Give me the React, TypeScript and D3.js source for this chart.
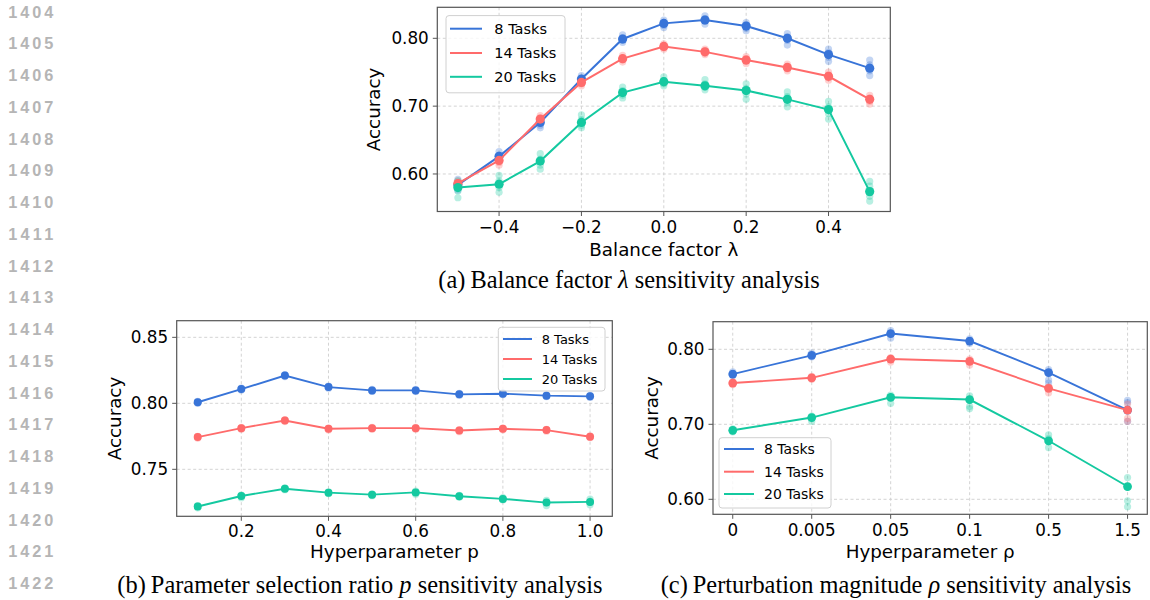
import React from "react";
import * as d3 from "d3";

// ---------- DATA ----------
const seriesNames = ["8 Tasks", "14 Tasks", "20 Tasks"];
const seriesColors = ["#3874d8", "#ff6b6b", "#14c9a0"];

// (a) balance factor lambda
const lambdaX = [-0.5, -0.4, -0.3, -0.2, -0.1, 0.0, 0.1, 0.2, 0.3, 0.4, 0.5];
const lambdaTicks = [-0.4, -0.2, 0.0, 0.2, 0.4];
const lambdaYTicks = [0.6, 0.7, 0.8];
const lambdaMean8 = [0.584, 0.626, 0.676, 0.74, 0.799, 0.822, 0.827, 0.818, 0.8, 0.776, 0.756];
const lambdaMean14 = [0.586, 0.62, 0.681, 0.735, 0.77, 0.788, 0.78, 0.768, 0.757, 0.744, 0.71];
const lambdaMean20 = [0.58, 0.585, 0.619, 0.676, 0.72, 0.736, 0.73, 0.723, 0.71, 0.695, 0.574];
const lambdaRuns8 = [
  [0.592, 0.587, 0.58, 0.576], [0.633, 0.628, 0.623, 0.619], [0.681, 0.677, 0.672, 0.668],
  [0.745, 0.741, 0.737, 0.734], [0.805, 0.801, 0.797, 0.794], [0.827, 0.823, 0.819, 0.816],
  [0.833, 0.829, 0.825, 0.821], [0.823, 0.82, 0.815, 0.811], [0.807, 0.802, 0.797, 0.79],
  [0.784, 0.779, 0.772, 0.766], [0.768, 0.761, 0.752, 0.745],
];
const lambdaRuns14 = [
  [0.59, 0.587, 0.583, 0.58], [0.625, 0.621, 0.617, 0.613], [0.686, 0.682, 0.679, 0.676],
  [0.74, 0.737, 0.733, 0.73], [0.775, 0.771, 0.768, 0.765], [0.792, 0.789, 0.786, 0.784],
  [0.784, 0.781, 0.778, 0.776], [0.773, 0.77, 0.766, 0.763], [0.762, 0.758, 0.755, 0.752],
  [0.75, 0.746, 0.742, 0.738], [0.716, 0.712, 0.707, 0.703],
];
const lambdaRuns20 = [
  [0.59, 0.582, 0.575, 0.565], [0.598, 0.59, 0.58, 0.573], [0.63, 0.622, 0.613, 0.607],
  [0.687, 0.68, 0.672, 0.668], [0.728, 0.723, 0.716, 0.712], [0.743, 0.738, 0.733, 0.73],
  [0.739, 0.733, 0.728, 0.724], [0.733, 0.726, 0.718, 0.71], [0.721, 0.714, 0.705, 0.699],
  [0.707, 0.699, 0.689, 0.681], [0.589, 0.582, 0.567, 0.56],
];

// (b) parameter selection ratio p
const pX = [0.1, 0.2, 0.3, 0.4, 0.5, 0.6, 0.7, 0.8, 0.9, 1.0];
const pTicks = [0.2, 0.4, 0.6, 0.8, 1.0];
const pYTicks = [0.75, 0.8, 0.85];
const pMean8 = [0.8008, 0.8108, 0.821, 0.8123, 0.8098, 0.8098, 0.8068, 0.8073, 0.8058, 0.8053];
const pMean14 = [0.7744, 0.7812, 0.787, 0.7807, 0.7812, 0.7812, 0.7794, 0.7807, 0.7797, 0.7747];
const pMean20 = [0.7218, 0.7298, 0.7353, 0.7323, 0.7308, 0.7325, 0.7296, 0.7276, 0.7248, 0.7253];
const pRuns8 = [
  [0.8015, 0.8008, 0.8], [0.8115, 0.8108, 0.81], [0.8218, 0.821, 0.8203], [0.813, 0.8123, 0.8115],
  [0.8105, 0.8098, 0.809], [0.8105, 0.8098, 0.809], [0.8075, 0.8068, 0.806], [0.808, 0.8073, 0.8065],
  [0.8065, 0.8058, 0.805], [0.806, 0.8053, 0.8045],
];
const pRuns14 = [
  [0.775, 0.7744, 0.7735], [0.7818, 0.7812, 0.7803], [0.7876, 0.787, 0.7862], [0.7813, 0.7807, 0.7798],
  [0.7818, 0.7812, 0.7804], [0.7818, 0.7812, 0.7804], [0.78, 0.7794, 0.7785], [0.7813, 0.7807, 0.7799],
  [0.7803, 0.7797, 0.7789], [0.7753, 0.7747, 0.7739],
];
const pRuns20 = [
  [0.7225, 0.7218, 0.7208], [0.7305, 0.7298, 0.7285], [0.736, 0.7353, 0.7345], [0.733, 0.7323, 0.7315],
  [0.7315, 0.7308, 0.73], [0.7335, 0.7325, 0.7312], [0.7303, 0.7296, 0.7288], [0.7285, 0.7276, 0.7268],
  [0.7265, 0.7248, 0.7225], [0.7275, 0.7253, 0.7232],
];

// (c) perturbation magnitude rho (categorical)
const rhoLabels = ["0", "0.005", "0.05", "0.1", "0.5", "1.5"];
const rhoYTicks = [0.6, 0.7, 0.8];
const rhoMean8 = [0.767, 0.792, 0.821, 0.811, 0.769, 0.719];
const rhoMean14 = [0.755, 0.762, 0.787, 0.784, 0.748, 0.719];
const rhoMean20 = [0.692, 0.709, 0.736, 0.733, 0.678, 0.617];
const rhoRuns8 = [
  [0.77, 0.767, 0.765], [0.795, 0.792, 0.79], [0.825, 0.821, 0.815],
  [0.814, 0.811, 0.808], [0.773, 0.769, 0.759, 0.755], [0.732, 0.729, 0.719, 0.704],
];
const rhoRuns14 = [
  [0.757, 0.755, 0.753], [0.764, 0.762, 0.76], [0.789, 0.787, 0.783],
  [0.787, 0.784, 0.779], [0.75, 0.748, 0.742], [0.727, 0.719, 0.708, 0.704],
];
const rhoRuns20 = [
  [0.694, 0.692, 0.69], [0.711, 0.709, 0.704], [0.739, 0.736, 0.728],
  [0.738, 0.733, 0.724, 0.721], [0.686, 0.681, 0.678, 0.669], [0.629, 0.617, 0.598, 0.59],
];

const lineNumbers = d3.range(1404, 1423);

// ---------- COMPONENTS ----------
const SANS = "DejaVu Sans, sans-serif";
const SERIF = "Liberation Serif, Times New Roman, serif";

type PanelProps = {
  frame: { x0: number; x1: number; y0: number; y1: number };
  x: (v: number) => number;
  y: (v: number) => number;
  xs: number[];
  xTicks: { v: number; label: string }[];
  yTicks: { v: number; label: string }[];
  means: number[][];
  runs: number[][][];
  xLabel: React.ReactNode;
  xLabelY: number;
  yLabelX: number;
  tickBaseline: number;
  legend: { x0: number; y0: number; w: number; h: number; lx0: number; lx1: number; tx: number; ys: number[]; font: number };
  rMean: number;
  lw: number;
};

function Panel(p: PanelProps) {
  const { frame, x, y } = p;
  const line = d3.line<number>().x((_, i) => x(p.xs[i])).y((d) => y(d));
  const fs = 16.8;
  return (
    <g>
      {/* grid */}
      {p.xTicks.map((t, i) => (
        <line key={"gx" + i} x1={x(t.v)} x2={x(t.v)} y1={frame.y0} y2={frame.y1} stroke="#cfcfcf" strokeWidth={0.9} strokeDasharray="3,2.5" />
      ))}
      {p.yTicks.map((t, i) => (
        <line key={"gy" + i} x1={frame.x0} x2={frame.x1} y1={y(t.v)} y2={y(t.v)} stroke="#cfcfcf" strokeWidth={0.9} strokeDasharray="3,2.5" />
      ))}
      {/* runs */}
      {p.runs.map((sr, si) =>
        sr.map((vals, xi) =>
          vals.map((v, k) => (
            <circle key={`r${si}-${xi}-${k}`} cx={x(p.xs[xi])} cy={y(v)} r={3.6} fill={seriesColors[si]} fillOpacity={0.3} />
          ))
        )
      )}
      {/* mean lines */}
      {p.means.map((m, si) => (
        <g key={"m" + si}>
          <path d={line(m) || ""} fill="none" stroke={seriesColors[si]} strokeWidth={p.lw} />
          {m.map((v, xi) => (
            <circle key={xi} cx={x(p.xs[xi])} cy={y(v)} r={p.rMean} fill={seriesColors[si]} />
          ))}
        </g>
      ))}
      {/* frame */}
      <rect x={frame.x0} y={frame.y0} width={frame.x1 - frame.x0} height={frame.y1 - frame.y0} fill="none" stroke="#555" strokeWidth={1.2} />
      {/* ticks */}
      {p.xTicks.map((t, i) => (
        <g key={"tx" + i}>
          <line x1={x(t.v)} x2={x(t.v)} y1={frame.y1} y2={frame.y1 + 4.5} stroke="#555" strokeWidth={1} />
          <text x={x(t.v)} y={p.tickBaseline} textAnchor="middle" fontFamily={SANS} fontSize={fs} fill="#000">{t.label}</text>
        </g>
      ))}
      {p.yTicks.map((t, i) => (
        <g key={"ty" + i}>
          <line x1={frame.x0 - 4.5} x2={frame.x0} y1={y(t.v)} y2={y(t.v)} stroke="#555" strokeWidth={1} />
          <text x={frame.x0 - 8.5} y={y(t.v)} dy="0.36em" textAnchor="end" fontFamily={SANS} fontSize={fs} fill="#000">{t.label}</text>
        </g>
      ))}
      {/* axis labels */}
      <text x={(frame.x0 + frame.x1) / 2} y={p.xLabelY} textAnchor="middle" fontFamily={SANS} fontSize={18.3} fill="#000">{p.xLabel}</text>
      <text transform={`translate(${p.yLabelX},${(frame.y0 + frame.y1) / 2}) rotate(-90)`} textAnchor="middle" fontFamily={SANS} fontSize={18.3} fill="#000">Accuracy</text>
      {/* legend */}
      <rect x={p.legend.x0} y={p.legend.y0} width={p.legend.w} height={p.legend.h} rx={3} fill="#fff" fillOpacity={0.8} stroke="#d0d0d0" strokeWidth={1} />
      {seriesNames.map((n, i) => (
        <g key={"lg" + i}>
          <line x1={p.legend.lx0} x2={p.legend.lx1} y1={p.legend.ys[i]} y2={p.legend.ys[i]} stroke={seriesColors[i]} strokeWidth={2} />
          <text x={p.legend.tx} y={p.legend.ys[i]} dy="0.36em" fontFamily={SANS} fontSize={p.legend.font} fill="#000">{n}</text>
        </g>
      ))}
    </g>
  );
}

export default function App() {
  // (a)
  const fa = { x0: 437.3, x1: 890.3, y0: 7.3, y1: 211.5 };
  const xa = d3.scaleLinear().domain([-0.55, 0.55]).range([fa.x0, fa.x1]);
  const ya = d3.scaleLinear().domain([0.5447, 0.8457]).range([fa.y1, fa.y0]);
  // (b)
  const fb = { x0: 176.7, x1: 612.3, y0: 320.7, y1: 516.3 };
  const xb = d3.scaleLinear().domain([0.0518, 1.051]).range([fb.x0, fb.x1]);
  const yb = d3.scaleLinear().domain([0.7144, 0.8626]).range([fb.y1, fb.y0]);
  // (c)
  const fc = { x0: 713, x1: 1147.3, y0: 321.7, y1: 514.3 };
  const xc = d3.scaleLinear().domain([-0.25, rhoLabels.length - 1 + 0.25]).range([fc.x0, fc.x1]);
  const yc = d3.scaleLinear().domain([0.58, 0.8368]).range([fc.y1, fc.y0]);

  const fmtA = (v: number) => (v < 0 ? "\u2212" : "") + d3.format(".1f")(Math.abs(v));
  const rhoIdx = rhoLabels.map((_, i) => i);
  const capFs = 24.4;

  return (
    <svg width={1150} height={600} style={{ position: "absolute", left: 0, top: 0, background: "#fff" }}>
      <rect width={1150} height={600} fill="#fff" />
      {lineNumbers.map((n, i) => (
        <text key={n} x={8.3} y={17.6 + i * 31.75} fontFamily="Liberation Sans, Arial, sans-serif" fontWeight="bold" fontSize={16.3} fill="#b5b5b5" textLength={45} lengthAdjust="spacing">{n}</text>
      ))}

      <Panel
        frame={fa} x={xa} y={ya} xs={lambdaX}
        xTicks={lambdaTicks.map((v) => ({ v, label: fmtA(v) }))}
        yTicks={lambdaYTicks.map((v) => ({ v, label: d3.format(".2f")(v) }))}
        means={[lambdaMean8, lambdaMean14, lambdaMean20]}
        runs={[lambdaRuns8, lambdaRuns14, lambdaRuns20]}
        xLabel="Balance factor λ" xLabelY={256} yLabelX={379.5} tickBaseline={233}
        legend={{ x0: 446, y0: 15.6, w: 119, h: 77.2, lx0: 450, lx1: 482, tx: 494.3, ys: [28.7, 53, 76.8], font: 14.5 }}
        rMean={4.6} lw={2}
      />
      <text x={629} y={288} textAnchor="middle" fontFamily={SERIF} fontSize={capFs} fill="#000">
        (a)<tspan dx={5}>Balance factor </tspan><tspan fontStyle="italic">λ</tspan> sensitivity analysis
      </text>

      <Panel
        frame={fb} x={xb} y={yb} xs={pX}
        xTicks={pTicks.map((v) => ({ v, label: d3.format(".1f")(v) }))}
        yTicks={pYTicks.map((v) => ({ v, label: d3.format(".2f")(v) }))}
        means={[pMean8, pMean14, pMean20]}
        runs={[pRuns8, pRuns14, pRuns20]}
        xLabel="Hyperparameter p" xLabelY={558.3} yLabelX={120.8} tickBaseline={536.7}
        legend={{ x0: 498.3, y0: 327.3, w: 106.7, h: 63.7, lx0: 503, lx1: 532, tx: 541.7, ys: [339, 359, 379], font: 13 }}
        rMean={4} lw={1.9}
      />
      <text x={360} y={592.7} textAnchor="middle" fontFamily={SERIF} fontSize={capFs} fill="#000">
        (b)<tspan dx={5}>Parameter selection ratio </tspan><tspan fontStyle="italic">p</tspan> sensitivity analysis
      </text>

      <Panel
        frame={fc} x={xc} y={yc} xs={rhoIdx}
        xTicks={rhoLabels.map((l, i) => ({ v: i, label: l }))}
        yTicks={rhoYTicks.map((v) => ({ v, label: d3.format(".2f")(v) }))}
        means={[rhoMean8, rhoMean14, rhoMean20]}
        runs={[rhoRuns8, rhoRuns14, rhoRuns20]}
        xLabel="Hyperparameter ρ" xLabelY={558} yLabelX={657.5} tickBaseline={535.5}
        legend={{ x0: 719, y0: 437.7, w: 112, h: 70.3, lx0: 724, lx1: 754, tx: 764, ys: [449, 471.7, 494], font: 14 }}
        rMean={4.4} lw={1.9}
      />
      <text x={896} y={592.7} textAnchor="middle" fontFamily={SERIF} fontSize={capFs} fill="#000">
        (c)<tspan dx={5}>Perturbation magnitude </tspan><tspan fontStyle="italic">ρ</tspan> sensitivity analysis
      </text>
    </svg>
  );
}
